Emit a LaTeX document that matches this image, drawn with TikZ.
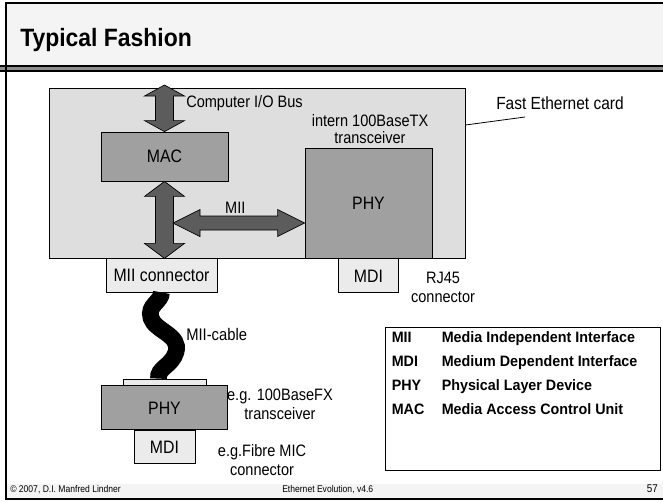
\documentclass[tikz,border=0pt]{standalone}
\usepackage{fontspec}
\setmainfont{Liberation Sans}
\newfontfamily\narrowfont[FakeStretch=0.88]{Liberation Sans}
\newfontfamily\headfont[FakeStretch=0.915]{Liberation Sans}
\newfontfamily\legfont[FakeStretch=0.95]{Liberation Sans}
\usetikzlibrary{calc,positioning}

\definecolor{bandgray}{HTML}{F4F4F4}
\definecolor{cardgray}{HTML}{DEDEDE}
\definecolor{blockgray}{HTML}{A0A0A0}
\definecolor{pluggray}{HTML}{EBEBEB}
\definecolor{arrowgray}{HTML}{5C5C5C}
\def\px{0.75pt}

% fat double arrows: from, to, head length, half shaft, half head
\newcommand{\fatvarrow}[5]{%
	\draw[fatarrow] (#1) -- ++(#5,#3) -- ++(-#5+#4,0) -- ($(#2)+(#4,-#3)$) -- ++(#5-#4,0) -- (#2)
		-- ++(-#5,-#3) -- ++(#5-#4,0) -- ($(#1)+(-#4,#3)$) -- ++(-#5+#4,0) -- cycle;
}
\newcommand{\fatharrow}[5]{%
	\draw[fatarrow] (#1) -- ++(#3,-#5) -- ++(0,#5-#4) -- ($(#2)+(-#3,-#4)$) -- ++(0,-#5+#4) -- (#2)
		-- ++(-#3,#5) -- ++(0,-#5+#4) -- ($(#1)+(#3,#4)$) -- ++(0,#5-#4) -- cycle;
}

\begin{document}
\begin{tikzpicture}[x=0.75pt, y=-0.75pt]
			\tikzset{
				cardbox/.style={rectangle, draw=black, line width=0.6pt, fill=cardgray, inner sep=0pt},
				blockbox/.style={rectangle, draw=black, line width=0.6pt, fill=blockgray, inner sep=0pt, font=\narrowfont\fontsize{13.5pt}{15pt}\selectfont},
				plugbox/.style={rectangle, draw=black, line width=0.6pt, fill=pluggray, inner sep=0pt, font=\narrowfont\fontsize{13.5pt}{15pt}\selectfont},
				fatarrow/.style={draw=black, line width=0.5pt, fill=arrowgray, line join=miter},
				cable/.style={line width=12.5pt, black, line cap=butt},
				lbl/.style={inner sep=0pt, align=center, font=\narrowfont\fontsize{12.4pt}{14.2pt}\selectfont},
				legtext/.style={inner sep=0pt, anchor=base west, font=\legfont\bfseries\fontsize{11.3pt}{13pt}\selectfont},
				foot/.style={inner sep=0pt, font=\narrowfont\fontsize{7.3pt}{8pt}\selectfont}
			}
			\useasboundingbox (0,0) rectangle (663,501);

			% slide frame, title and footer bands
			\fill[bandgray] (6,3) rectangle (663,66);
			\fill[bandgray] (6,484) rectangle (663,499);
			\fill[black!45] (0,66) rectangle (663,71);
			\draw[line width=1.1pt] (0,66) -- (663,66);
			\draw[line width=1.1pt] (0,71) -- (663,71);
			\draw[line width=1pt] (663,3) -- (6,3) -- (6,499) -- (663,499);
			\node[inner sep=0pt, anchor=base west, font=\headfont\bfseries\fontsize{18.8pt}{20pt}\selectfont] (title) at (20,46.7) {Typical Fashion};
			\node[foot, anchor=base west] (copy) at (10,492) {\textcopyright{} 2007, D.I. Manfred Lindner};
			\node[foot, anchor=base west] (talk) at (282,492) {Ethernet Evolution, v4.6};
			\node[foot, anchor=base east, font=\narrowfont\fontsize{8.4pt}{9pt}\selectfont] (page) at (658,492) {57};

			% the card
			\node[cardbox, minimum width=416*\px, minimum height=170*\px] (card) at (257,173) {};
			\node[blockbox, minimum width=127*\px, minimum height=49*\px] (mac) at (164.5,156.5) {MAC};
			\node[blockbox, minimum width=127*\px, minimum height=110*\px] (phy) at (368.5,203) {PHY};
			\node[plugbox, minimum width=60*\px, minimum height=34*\px, below=0pt of phy] (mdi) {MDI};
			\node[plugbox, minimum width=111*\px, minimum height=34*\px] (miicon) at (161.5,275) {MII connector};

			\coordinate (bustip) at (164.5,85);
			\coordinate (miileft) at (173,223);
			\coordinate (miiright) at (miileft -| phy.west);
			\fatvarrow{bustip}{mac.north}{11}{9}{20}
			\fatvarrow{mac.south}{mac.south |- card.south}{15}{9}{20}
			\fatharrow{miileft}{miiright}{27}{7}{13.5}

			\node[lbl, anchor=base west] (bus) at (186,107.5) {Computer I/O Bus};
			\node[lbl, anchor=base] (miilbl) at (235.3,213.3) {MII};
			\node[lbl] (tx) at (370,129.2) {intern 100BaseTX\\[-1.7pt]transceiver};
			\node[lbl] (rj) at (443,287.5) {RJ45\\connector};
			\node[lbl, anchor=base west, font=\narrowfont\fontsize{13.2pt}{15pt}\selectfont] (fastlbl) at (496,109.3) {Fast Ethernet card};
			\coordinate (cardpt) at (card.east |- 0,125);
			\coordinate (lblpt) at (525,117);
			\draw[line width=0.6pt] (cardpt) -- (lblpt);

			% external transceiver
			\node[plugbox, minimum width=83*\px, minimum height=6*\px] (plate) at (164.5,382) {};
			\node[blockbox, minimum width=126*\px, minimum height=44*\px, below=0pt of plate] (phyx) {PHY};
			\node[plugbox, minimum width=61*\px, minimum height=33*\px, below=0pt of phyx] (mdix) {MDI};

			\draw[cable] (miicon.south) .. controls (161.5,302) and (147,305) .. (151,318)
				.. controls (155,331) and (181,335) .. (176,352)
				.. controls (172,366) and (157,368) .. ([xshift=-6*\px]plate.north);

			\node[lbl, anchor=base west, font=\narrowfont\fontsize{12.6pt}{14pt}\selectfont] (cablelbl) at (186,340.7) {MII-cable};
			\node[lbl] (fx) at (280,404.5) {e.g. 100BaseFX\\transceiver};
			\node[lbl] (mic) at (262,460) {e.g.Fibre MIC\\connector};

			% abbreviations
			\node[rectangle, draw=black, line width=0.6pt, fill=white, minimum width=275*\px, minimum height=143*\px] (legend) at (522.5,398.5) {};
			\foreach \ab/\txt [count=\i] in {MII/Media Independent Interface, MDI/Medium Dependent Interface, PHY/Physical Layer Device, MAC/Media Access Control Unit} {
				\node[legtext] (ab\i) at (391.5,318+24.2*\i) {\ab};
				\node[legtext] (txt\i) at (441.5,318+24.2*\i) {\txt};
			}
\end{tikzpicture}
\end{document}
